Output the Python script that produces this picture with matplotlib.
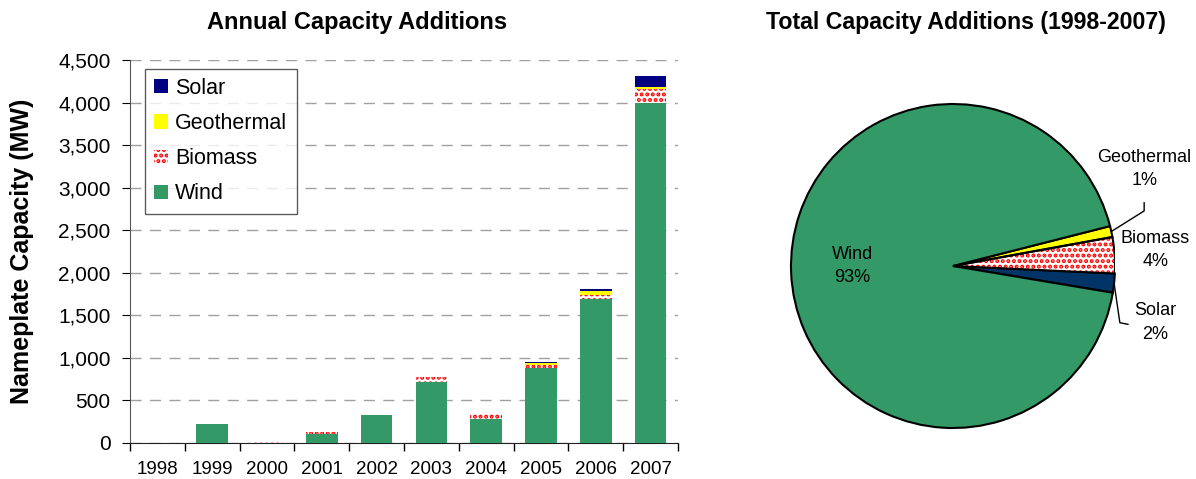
import matplotlib
matplotlib.use('Agg')
from matplotlib import pyplot as plt
from matplotlib.patches import Wedge
import numpy as np

plt.rcParams['font.family'] = ['Liberation Sans', 'DejaVu Sans']
plt.rcParams['hatch.linewidth'] = 2.0

# data
years = ['1998', '1999', '2000', '2001', '2002', '2003', '2004', '2005', '2006', '2007']
wind = [0, 225, 0, 100, 330, 720, 285, 880, 1690, 4000]
biomass = [0, 0, 20, 35, 0, 60, 70, 40, 50, 160]
geothermal = [0, 0, 0, 0, 0, 0, 0, 15, 45, 25]
solar = [0, 0, 0, 0, 0, 0, 0, 22, 25, 125]

pie_labels = ['Solar', 'Biomass', 'Geothermal', 'Wind']
pie_share = [1.9, 3.6, 1.1, 93.4]

c_wind = '#339966'
c_solar = '#000080'
c_geo = '#FFFF00'
c_bio = '#FF0000'
c_pie_solar = '#003366'

fig = plt.figure(figsize=(11.96, 4.79), dpi=100)

# ---- bar chart ----
ax = fig.add_axes([130 / 1196, 1 - 443 / 479, 548 / 1196, 383 / 479])
x = np.arange(len(years))
w = 0.58
b1 = np.array(wind)
b2 = b1 + np.array(biomass)
b3 = b2 + np.array(geothermal)
ax.bar(x, wind, w, color=c_wind, label='Wind', zorder=3)
ax.bar(x, biomass, w, bottom=b1, facecolor='white', edgecolor=c_bio, hatch='...',
       linewidth=0, label='Biomass', zorder=3)
ax.bar(x, geothermal, w, bottom=b2, color=c_geo, label='Geothermal', zorder=3)
ax.bar(x, solar, w, bottom=b3, color=c_solar, label='Solar', zorder=3)

ax.set_xlim(-0.5, len(years) - 0.5)
ax.set_ylim(0, 4500)
ax.set_yticks(np.arange(0, 4501, 500))
ax.set_yticklabels(['{:,}'.format(v) for v in range(0, 4501, 500)])
ax.set_xticks(x)
ax.set_xticklabels(years)
ax.set_xticks(np.arange(-0.5, len(years)), minor=True)
ax.tick_params(axis='x', which='major', length=0, pad=13, labelsize=13.5)
ax.tick_params(axis='x', which='minor', length=6, direction='out', width=1)
ax.tick_params(axis='y', length=6, direction='out', labelsize=15, pad=8)
ax.grid(axis='y', color='#a0a0a0', linestyle=(0, (8, 6)), linewidth=1, zorder=0)
for s in ['top', 'right']:
    ax.spines[s].set_visible(False)
ax.spines['left'].set_color('#555555')
ax.spines['bottom'].set_color('#222222')
ax.set_ylabel('Nameplate Capacity (MW)', fontsize=18, fontweight='bold')
ax.yaxis.set_label_coords(-0.175, 0.5)
fig.text(357 / 1196, 1 - 22 / 479, 'Annual Capacity Additions', ha='center',
         va='center', fontsize=17, fontweight='bold')

h, l = ax.get_legend_handles_labels()
leg = ax.legend(h[::-1], l[::-1], loc='upper left', bbox_to_anchor=(0.027, 0.977),
                fontsize=15.5, frameon=True, fancybox=False, edgecolor='#333333',
                handlelength=0.65, handleheight=0.65, handletextpad=0.35,
                labelspacing=0.66, borderpad=0.42, borderaxespad=0)
leg.get_frame().set_linewidth(1)

# ---- pie chart ----
r = 162
pax = fig.add_axes([(953 - r) / 1196, 1 - (266 + r) / 479, 2 * r / 1196, 2 * r / 479])
wedges, _ = pax.pie(pie_share, colors=[c_pie_solar, 'white', c_geo, c_wind],
                    startangle=-9.5, counterclock=True,
                    wedgeprops=dict(edgecolor='black', linewidth=1.5))
wedges[1].set_hatch('...')
wedges[1].set_edgecolor(c_bio)
wedges[1].set_linewidth(0)
# black outline for the biomass wedge
pax.add_patch(Wedge((0, 0), 1, wedges[1].theta1, wedges[1].theta2,
                    facecolor='none', edgecolor='black', linewidth=1.5))
pax.set_xlim(-1, 1)
pax.set_ylim(-1, 1)

pct = ['{:.0f}%'.format(v) for v in pie_share]
label_pos = {'Wind': (-0.62, 0.0), 'Geothermal': (1.18, 0.60),
             'Biomass': (1.25, 0.10), 'Solar': (1.25, -0.35)}
for wdg, name, p in zip(wedges, pie_labels, pct):
    tx, ty = label_pos[name]
    pax.text(tx, ty, name + '\n' + p, ha='center', va='center', fontsize=13,
             linespacing=1.5, clip_on=False)

# leader lines
th = np.deg2rad((wedges[2].theta1 + wedges[2].theta2) / 2)
pax.plot([np.cos(th), 1.18, 1.18], [np.sin(th), 0.34, 0.39], color='black',
         linewidth=1, clip_on=False)
th = np.deg2rad((wedges[0].theta1 + wedges[0].theta2) / 2)
pax.plot([np.cos(th), 1.03, 1.08], [np.sin(th), -0.35, -0.36], color='black',
         linewidth=1, clip_on=False)

fig.text(966 / 1196, 1 - 22 / 479, 'Total Capacity Additions (1998-2007)', ha='center',
         va='center', fontsize=16.7, fontweight='bold')

fig.savefig('out.png', dpi=100)
